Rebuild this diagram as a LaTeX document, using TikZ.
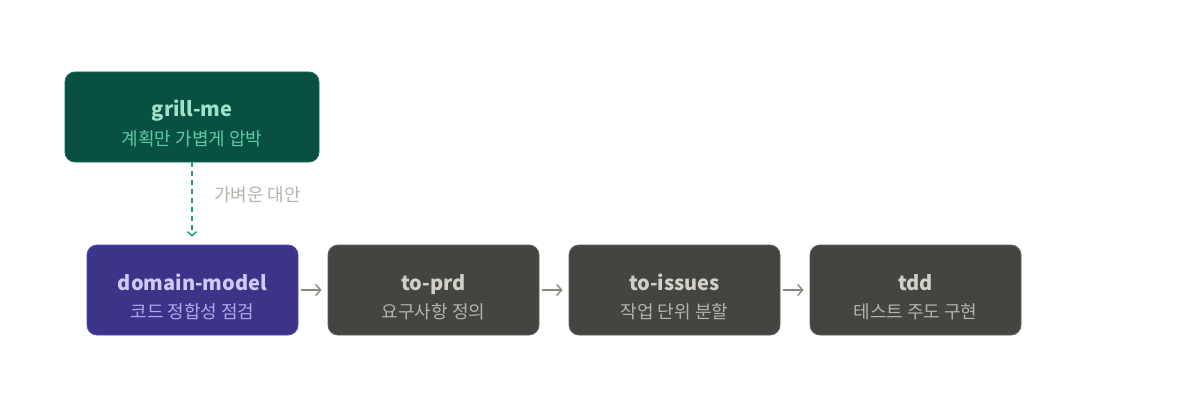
\documentclass[tikz,border=0pt]{standalone}
\usepackage{fontspec}
\setmainfont{Noto Sans CJK KR}
\usetikzlibrary{arrows.meta}
\definecolor{gfill}{HTML}{085041}
\definecolor{gborder}{HTML}{0F6E56}
\definecolor{gtitle}{HTML}{9FE1CB}
\definecolor{gsub}{HTML}{5DCAA5}
\definecolor{pfill}{HTML}{3C3489}
\definecolor{pborder}{HTML}{534AB7}
\definecolor{ptitle}{HTML}{CECBF6}
\definecolor{psub}{HTML}{AFA9EC}
\definecolor{dfill}{HTML}{444441}
\definecolor{dborder}{HTML}{5F5E5A}
\definecolor{dtitle}{HTML}{D3D1C7}
\definecolor{dsub}{HTML}{B4B2A9}
\definecolor{arr}{HTML}{888780}
\definecolor{dash}{HTML}{1D9E75}
\definecolor{lbl}{HTML}{B4B2A9}
\tikzset{
  box/.style={rounded corners=10pt, line width=0.8pt, minimum height=90pt, inner sep=0pt},
  gbox/.style={box, fill=gfill, draw=gborder, minimum width=254pt},
  pbox/.style={box, fill=pfill, draw=pborder, minimum width=211pt},
  dbox/.style={box, fill=dfill, draw=dborder, minimum width=211pt},
  ttl/.style={anchor=base, font=\fontsize{20}{24}\selectfont\bfseries, inner sep=0pt},
  sub/.style={anchor=base, font=\fontsize{18}{22}\selectfont, inner sep=0pt},
  flow/.style={draw=arr, line width=1.4pt, -{Straight Barb[length=5pt,width=11pt,line width=1.4pt]}, shorten <=3pt, shorten >=6pt},
  alt/.style={draw=dash, line width=1.4pt, dash pattern=on 5pt off 4pt, -{Straight Barb[length=4pt,width=9pt,line width=1.4pt]}, shorten >=8pt},
}
\begin{document}
\begin{tikzpicture}[x=1pt,y=1pt]
\useasboundingbox (0,0) rectangle (1200,408);
\node[gbox] (grill) at (192,291) {};
\node[ttl, text=gtitle] (grilltitle) at (192,291) {grill-me};
\node[sub, text=gsub] (grillsub) at (192,263) {계획만 가볍게 압박};

\node[pbox] (dm) at (192.5,118) {};
\node[ttl, text=ptitle] (dmtitle) at (192.5,118) {domain-model};
\node[sub, text=psub] (dmsub) at (192.5,90) {코드 정합성 점검};

\node[dbox] (prd) at (433.5,118) {};
\node[ttl, text=dtitle] (prdtitle) at (433.5,118) {to-prd};
\node[sub, text=dsub] (prdsub) at (433.5,90) {요구사항 정의};

\node[dbox] (iss) at (674.5,118) {};
\node[ttl, text=dtitle] (isstitle) at (674.5,118) {to-issues};
\node[sub, text=dsub] (isssub) at (674.5,90) {작업 단위 분할};

\node[dbox] (tdd) at (915.5,118) {};
\node[ttl, text=dtitle] (tddtitle) at (915.5,118) {tdd};
\node[sub, text=dsub] (tddsub) at (915.5,90) {테스트 주도 구현};

\draw[flow] (dm.east) -- (prd.west);
\draw[flow] (prd.east) -- (iss.west);
\draw[flow] (iss.east) -- (tdd.west);

\draw[alt] (grill.south) -- (grill.south |- dm.north);
\node[sub, anchor=west, text=lbl] (altlbl) at (214,213) {가벼운 대안};
\end{tikzpicture}
\end{document}
